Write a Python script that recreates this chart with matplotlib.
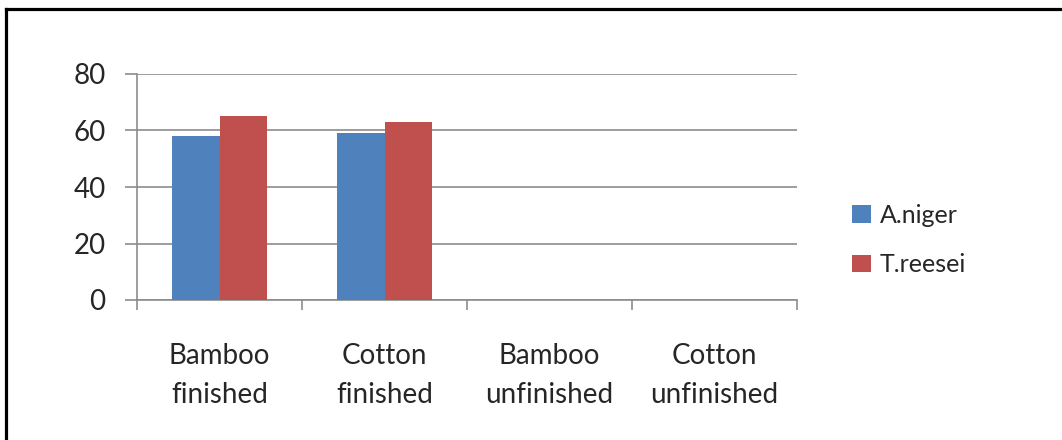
import matplotlib
matplotlib.use("Agg")
import matplotlib.pyplot as plt
from matplotlib.lines import Line2D
import numpy as np

plt.rcParams["font.family"] = ["Lato", "DejaVu Sans"]

categories = ["Bamboo\nfinished", "Cotton\nfinished", "Bamboo\nunfinished", "Cotton\nunfinished"]
a_niger = [58, 59, 0, 0]
t_reesei = [65, 63, 0, 0]
yticks = [0, 20, 40, 60, 80]

blue = "#4F81BD"
red = "#C0504D"
grid_c = "#8C8C8C"
text_c = "#262626"

fig = plt.figure(figsize=(10.62, 4.40), dpi=100)
fig.patch.set_facecolor("white")
ax = fig.add_axes([137 / 1062, 140 / 440, 660 / 1062, 226 / 440])

x = np.arange(len(categories))
w = 1 / 3.5  # gap width 150%
ax.bar(x - w / 2, a_niger, w, color=blue, label="A.niger", zorder=3)
ax.bar(x + w / 2, t_reesei, w, color=red, label="T.reesei", zorder=3)

ax.set_xlim(-0.5, len(categories) - 0.5)
ax.set_ylim(0, 80)
ax.set_yticks(yticks)
ax.set_yticklabels([str(v) for v in yticks], fontsize=20, color=text_c)
ax.yaxis.grid(True, color=grid_c, linewidth=1.2, zorder=0)

ax.set_xticks(np.arange(len(categories) + 1) - 0.5)
ax.set_xticklabels([])
ax.set_xticks(x, minor=True)
ax.set_xticklabels(categories, minor=True, fontsize=20, color=text_c, linespacing=1.6)
ax.tick_params(axis="x", which="minor", length=0, pad=31)
ax.tick_params(axis="x", which="major", length=7, width=1.2, color=grid_c, direction="out")
ax.tick_params(axis="y", length=8.5, width=1.2, color=grid_c, direction="out", pad=14)

for s in ["top", "right"]:
    ax.spines[s].set_visible(False)
for s in ["left", "bottom"]:
    ax.spines[s].set_color(grid_c)
    ax.spines[s].set_linewidth(1.2)

fig.legend(loc="center left", bbox_to_anchor=(852 / 1062, 1 - 240 / 440),
           frameon=False, fontsize=18, handlelength=0.75, handleheight=0.7,
           handletextpad=0.35, labelspacing=1.05, borderpad=0, borderaxespad=0,
           labelcolor=text_c)

# outer frame (top and left edges visible)
fig.add_artist(Line2D([6 / 1062, 1], [1 - 9.5 / 440, 1 - 9.5 / 440],
                      transform=fig.transFigure, color="black", linewidth=2.3))
fig.add_artist(Line2D([6 / 1062, 6 / 1062], [0, 1 - 9.5 / 440],
                      transform=fig.transFigure, color="black", linewidth=2.3))

fig.savefig("out.png", dpi=100)
